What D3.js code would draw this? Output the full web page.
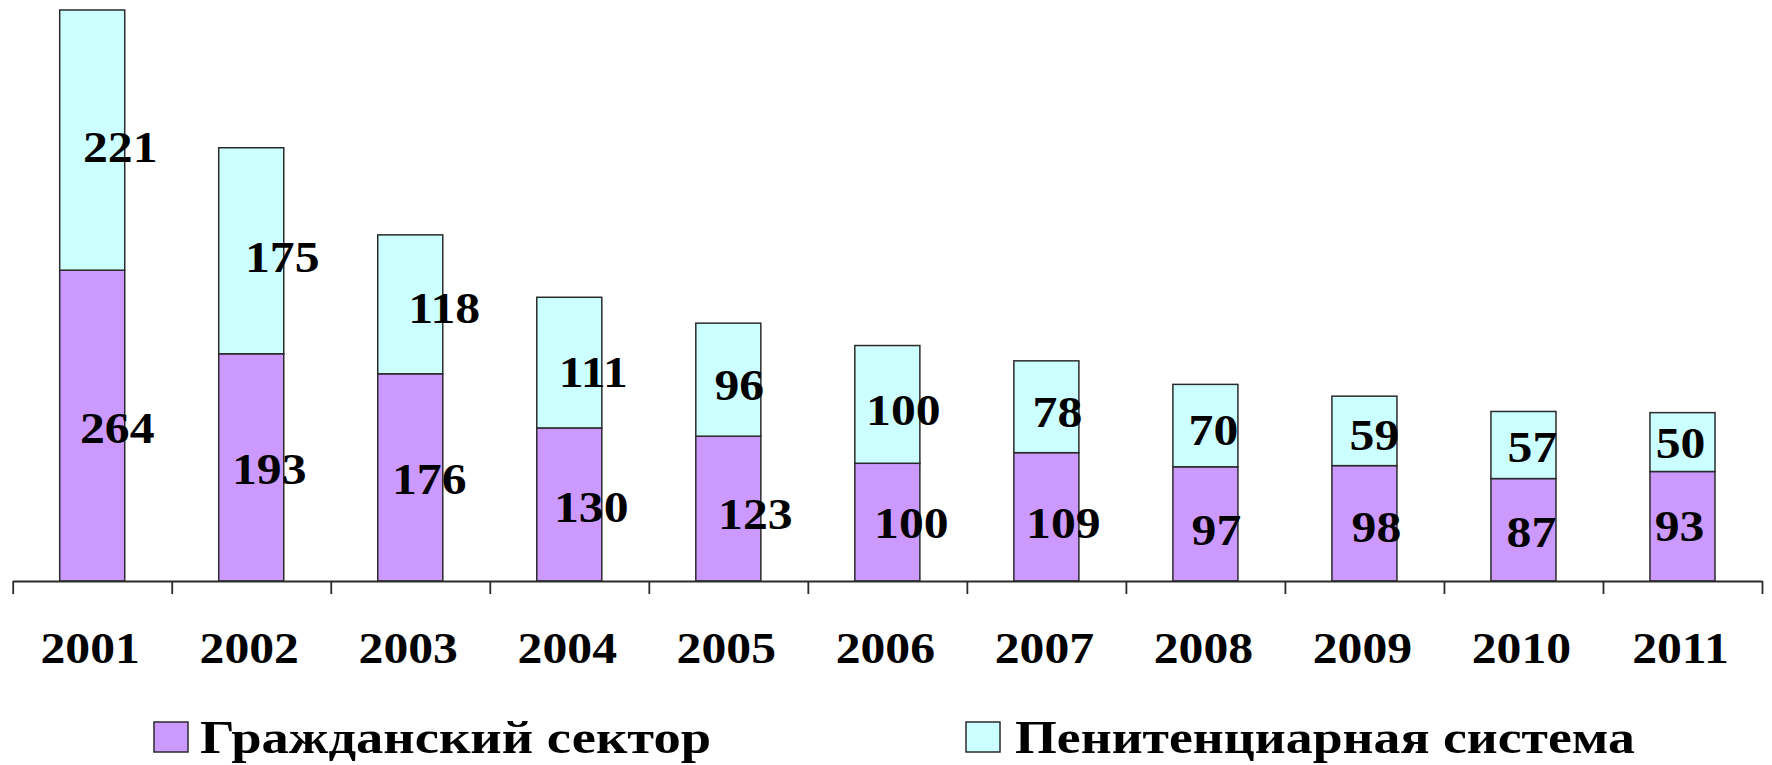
<!DOCTYPE html>
<html>
<head>
<meta charset="utf-8">
<script src="https://cdn.jsdelivr.net/npm/d3@7"></script>
<style>
  html, body { margin: 0; padding: 0; background: #ffffff; }
  svg { display: block; }
</style>
</head>
<body>
<svg id="chart" width="1772" height="765"></svg>
<script>
// ---- data ----
const years = ["2001","2002","2003","2004","2005","2006","2007","2008","2009","2010","2011"];
const civilian = [264, 193, 176, 130, 123, 100, 109, 97, 98, 87, 93];      // Гражданский сектор
const penitentiary = [221, 175, 118, 111, 96, 100, 78, 70, 59, 57, 50];   // Пенитенциарная система
const seriesNames = ["Гражданский сектор", "Пенитенциарная система"];

// label placement nudges (px) relative to segment centre, as in the original
const civLabelDx = [25, 18, 19, 22, 27, 24, 17, 11, 12, 8, -3];
const civLabelDy = [17, 17, 17, 18, 20, 16, 21, 21, 19, 17, 15];
const penLabelDx = [28, 31, 34, 24, 11, 16, 11, 8, 10, 9, -2];
const penLabelDy = [22, 21, 19, 24, 20, 21, 20, 19, 19, 17, 16];

// ---- layout ----
const FONT = "Liberation Serif";
const svg = d3.select("#chart");
const x0 = 12.7, x1 = 1762, yBase = 581;
const colors = { civ: "#CC99FF", pen: "#CCFFFF" };
const stroke = "#2b2b2b";

const x = d3.scaleBand().domain(years).range([x0, x1]).paddingInner(0.591).paddingOuter(0.2955);
const y = d3.scaleLinear().domain([0, 485]).range([yBase, 10]);

const rows = years.map((yr, i) => ({ yr, i, civ: civilian[i], pen: penitentiary[i] }));
const stack = d3.stack().keys(["civ", "pen"])(rows);

// bars
const g = svg.append("g");
stack.forEach(layer => {
  g.selectAll(null).data(layer).enter().append("rect")
    .attr("x", d => x(d.data.yr))
    .attr("width", x.bandwidth())
    .attr("y", d => y(d[1]))
    .attr("height", d => y(d[0]) - y(d[1]))
    .attr("fill", colors[layer.key])
    .attr("stroke", stroke)
    .attr("stroke-width", 1.5);
});

// axis with boundary ticks
const xb = d3.scaleLinear().domain([0, years.length]).range([x0, x1]);
const axis = svg.append("g").attr("transform", `translate(0,${yBase})`)
  .call(d3.axisBottom(xb).tickValues(d3.range(years.length + 1)).tickFormat("").tickSize(13).tickSizeOuter(0));
axis.select(".domain").attr("stroke", stroke).attr("stroke-width", 1.8);
axis.selectAll(".tick line").attr("stroke", stroke).attr("stroke-width", 1.8);

// category labels
const sx = 1.13;
svg.append("g").selectAll("text").data(years).enter().append("text")
  .attr("transform", d => `translate(${x(d) + x.bandwidth() / 2 - 2},663) scale(${sx},1)`)
  .attr("text-anchor", "middle")
  .attr("font-size", 44)
  .attr("font-weight", "bold")
  .style("font-family", FONT)
  .attr("fill", "#000")
  .text(d => d);

// value labels
const lbl = svg.append("g");
stack.forEach(layer => {
  const dx = layer.key === "civ" ? civLabelDx : penLabelDx;
  const dy = layer.key === "civ" ? civLabelDy : penLabelDy;
  lbl.selectAll(null).data(layer).enter().append("text")
    .attr("transform", d => {
      const cx = x(d.data.yr) + x.bandwidth() / 2 + dx[d.data.i];
      const cy = (y(d[0]) + y(d[1])) / 2 + dy[d.data.i];
      return `translate(${cx},${cy}) scale(${sx},1)`;
    })
    .attr("text-anchor", "middle")
    .attr("font-size", 44)
    .attr("font-weight", "bold")
    .style("font-family", FONT)
    .attr("fill", "#000")
    .text(d => d.data[layer.key]);
});

// legend
const legendItems = [
  { name: seriesNames[0], color: colors.civ, rx: 154, tx: 200, w: 511 },
  { name: seriesNames[1], color: colors.pen, rx: 966, tx: 1015, w: 620 }
];
const lg = svg.append("g");
legendItems.forEach(it => {
  lg.append("rect").attr("x", it.rx).attr("y", 722).attr("width", 34).attr("height", 30)
    .attr("fill", it.color).attr("stroke", stroke).attr("stroke-width", 1.5);
  lg.append("text").attr("x", it.tx).attr("y", 753)
    .attr("font-size", 47)
    .attr("font-weight", "bold")
    .style("font-family", FONT)
    .attr("fill", "#000")
    .attr("textLength", it.w).attr("lengthAdjust", "spacingAndGlyphs")
    .text(it.name);
});
</script>
</body>
</html>
